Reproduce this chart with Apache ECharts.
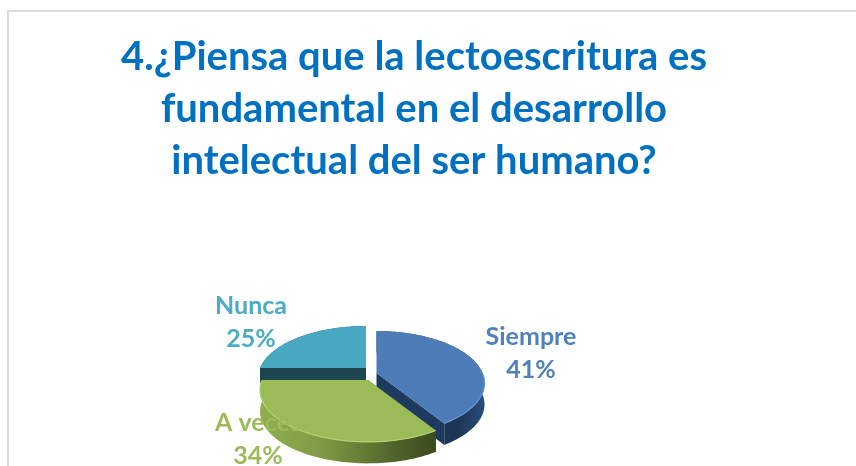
<!DOCTYPE html>
<html>
<head>
<meta charset="utf-8">
<style>html,body{margin:0;padding:0;background:#fff}#c{width:856px;height:466px}</style>
<script src="https://cdn.jsdelivr.net/npm/echarts@6/dist/echarts.min.js"></script>
</head>
<body>
<div id="c"></div>
<script>
const titleText = '4.¿Piensa que la lectoescritura es\nfundamental en el desarrollo\nintelectual del ser humano?';
const categories = ['Siempre', 'A veces', 'Nunca'];
const values = [41, 34, 25];

const topColors = ['#4c7db8', '#9bbb59', '#48a8c2'];
const labelColors = ['#4f81bd', '#9bbb59', '#4bacc6'];
const rimColors = ['#6a96cc', '#b4d072', '#48a8c2'];
const cutColors = ['#1f3a5f', '#3b4a1d', '#1d4650'];
const wallStops = [
  [[0, '#1f3a5f'], [0.75, '#1c3557'], [1, '#2a4d7a']],
  [[0, '#8fae50'], [0.35, '#7f9b45'], [0.75, '#52662b'], [1, '#3b4a1d']],
  [[0, '#1d4650'], [1, '#1d4650']]
];
const apexes = [[376.5, 373], [368, 380], [366, 368]];
const labelCenters = [[531, 353.5], [258, 439], [251, 322]];
const paintRank = [1, 3, 2];
const RX = 106, RY = 50, PERSPECTIVE = 0.192, DEPTH = 21.5;

function project(apex, deg) {
  const t = deg * Math.PI / 180, u = Math.sin(t), v = -Math.cos(t), w = 1 - PERSPECTIVE * v;
  return [apex[0] + RX * u / w, apex[1] + RY * v / w];
}
const down = p => [p[0], p[1] + DEPTH];
const total = values.reduce((a, b) => a + b, 0);

const chart = echarts.init(document.getElementById('c'), null, {renderer: 'canvas'});
chart.setOption({
  animation: false,
  backgroundColor: '#fff',
  title: {
    text: titleText, left: 409, top: 26, textAlign: 'center',
    textStyle: {fontFamily: 'Lato', fontWeight: 'bold', fontSize: 40, lineHeight: 52, color: '#0070c0'}
  },
  graphic: [
    {type: 'rect', shape: {x: 7, y: 10, width: 2, height: 456}, style: {fill: '#dcdcdc'}, silent: true},
    {type: 'rect', shape: {x: 7, y: 10, width: 849, height: 2}, style: {fill: '#dcdcdc'}, silent: true}
  ],
  series: [{
    type: 'custom',
    coordinateSystem: 'none',
    data: values.map(v => [v]),
    renderItem(params, api) {
      const i = params.dataIndex, v = api.value(0);
      const before = values.slice(0, i).reduce((a, b) => a + b, 0);
      const a0 = before / total * 360, a1 = a0 + v / total * 360;
      const apex = apexes[i], arc = [];
      for (let d = a0; d < a1; d += 1.5) arc.push(project(apex, d));
      arc.push(project(apex, a1));
      const z = paintRank[i] * 10;
      const grad = new echarts.graphic.LinearGradient(0, 0, 1, 0,
        wallStops[i].map(s => ({offset: s[0], color: s[1]})));
      const last = arc[arc.length - 1];
      const children = [
        {type: 'polygon', z2: z, shape: {points: [apex, arc[0], down(arc[0]), down(apex)]}, style: {fill: cutColors[i]}},
        {type: 'polygon', z2: z, shape: {points: [apex, last, down(last), down(apex)]}, style: {fill: cutColors[i]}},
        {type: 'polygon', z2: z + 1, shape: {points: arc.concat(arc.slice().reverse().map(down))}, style: {fill: grad}},
        {type: 'polygon', z2: z + 2, shape: {points: [apex].concat(arc)}, style: {fill: topColors[i]}},
        {type: 'polyline', z2: z + 3, shape: {points: arc.filter(p => p[1] > apex[1])},
          style: {fill: 'none', stroke: rimColors[i], lineWidth: 1.2}},
        {type: 'text', z2: 100, style: {
          x: labelCenters[i][0], y: labelCenters[i][1],
          text: categories[i] + '\n' + v + '%',
          align: 'center', verticalAlign: 'middle',
          fontFamily: 'Lato', fontWeight: 'bold', fontSize: 25, lineHeight: 33,
          fill: labelColors[i]
        }}
      ];
      return {type: 'group', children};
    }
  }]
});
</script>
</body>
</html>
